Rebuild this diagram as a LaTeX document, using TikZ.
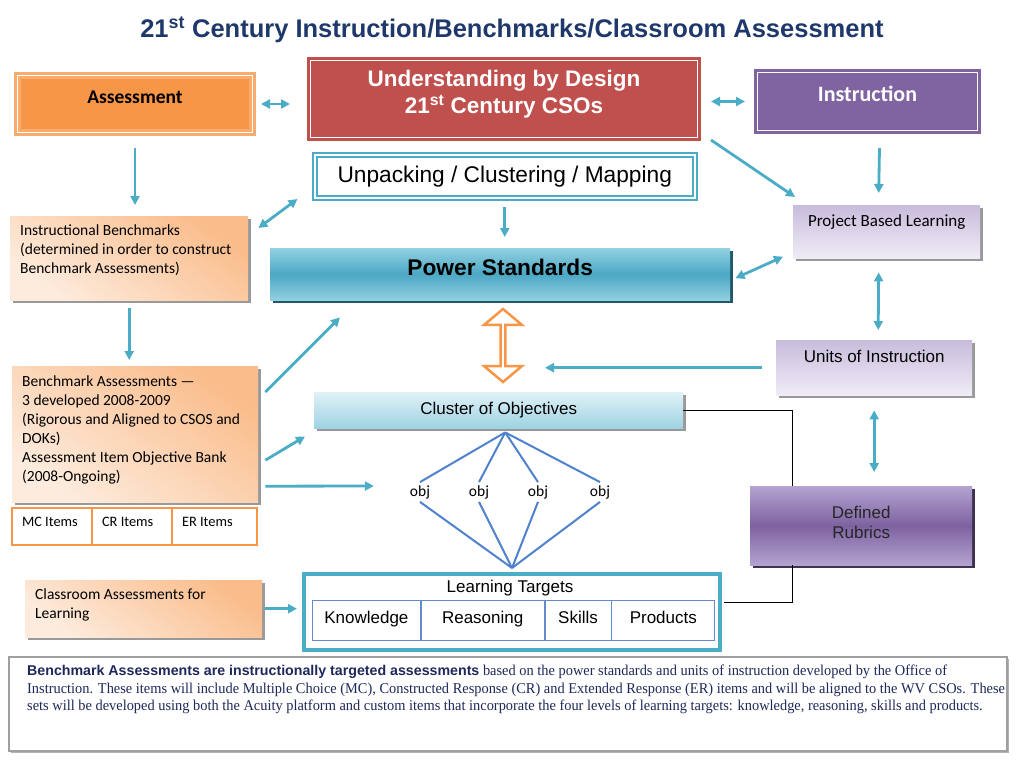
\documentclass[tikz,border=0pt]{standalone}
\usepackage{fontspec}
\setmainfont{Liberation Sans}
\newfontfamily\calibfont{Carlito}
\newfontfamily\timesfont[FakeStretch=0.96]{Liberation Serif}
\usetikzlibrary{calc, arrows.meta, shapes.arrows, shadows}
\definecolor{titleblue}{RGB}{31,56,108}
\definecolor{asorange}{RGB}{247,150,70}
\definecolor{asedge}{RGB}{249,172,110}
\definecolor{ubdred}{RGB}{192,80,77}
\definecolor{instpurple}{RGB}{128,100,162}
\definecolor{arrteal}{RGB}{75,172,198}
\definecolor{fanblue}{RGB}{79,129,205}
\definecolor{orlight}{RGB}{253,236,222}
\definecolor{ordark}{RGB}{250,188,138}
\definecolor{psmid}{RGB}{75,168,196}
\definecolor{pslight}{RGB}{146,208,225}
\definecolor{psshadow}{RGB}{33,89,104}
\definecolor{cluslight}{RGB}{224,241,247}
\definecolor{clusdark}{RGB}{158,211,227}
\definecolor{lavtop}{RGB}{200,188,220}
\definecolor{lavbot}{RGB}{240,236,246}
\definecolor{rubmid}{RGB}{125,98,160}
\definecolor{rublight}{RGB}{180,163,208}
\definecolor{rubshadow}{RGB}{63,49,81}
\definecolor{notenavy}{RGB}{30,40,90}
\definecolor{cellblue}{RGB}{100,140,205}

\tikzset{
  headbox/.style 2 args={draw=#2, fill=#1, double=white, double distance=1.5pt,
    line width=3pt, inner sep=0pt, anchor=north west},
  obox/.style={top color=ordark, bottom color=orlight, shading angle=-35,
    drop shadow={shadow xshift=3pt, shadow yshift=-3pt, fill=black!40, opacity=1},
    inner xsep=10pt, inner ysep=0pt, anchor=north west,
    font=\calibfont\fontsize{15.5}{19}\selectfont},
  lavbox/.style={top color=lavtop, bottom color=lavbot,
    drop shadow={shadow xshift=3pt, shadow yshift=-3pt, fill=black!40, opacity=1},
    inner sep=0pt, anchor=north west},
  itembox/.style={draw=asorange, line width=2.5pt, fill=white, anchor=north west, outer sep=0pt,
    inner xsep=10pt, inner ysep=0pt, font=\calibfont\fontsize{14.4}{17}\selectfont},
  ltcell/.style={draw=cellblue, line width=0.8pt, minimum height=40pt, anchor=north west,
    inner sep=0pt, font=\fontsize{17}{20}\selectfont, text height=12pt, text depth=6pt},
  objlab/.style={font=\calibfont\fontsize{15.5}{18}\selectfont, inner xsep=0pt, inner ysep=3pt},
  arr/.style={-{Triangle[length=9pt,width=9pt]}, arrteal, line width=2.8pt},
  darr/.style={{Triangle[length=9pt,width=9pt]}-{Triangle[length=9pt,width=9pt]}, arrteal, line width=2.8pt},
  fan/.style={fanblue, line width=2pt}
}

\begin{document}
\begin{tikzpicture}[x=1pt, y=-1pt]
\useasboundingbox (0,0) rectangle (1024,768);
\node[font=\bfseries\fontsize{25.5}{30}\selectfont, text=titleblue] (title) at (512,30)
  {21\textsuperscript{st} Century Instruction/Benchmarks/Classroom Assessment};

% top row
\node[headbox={asorange}{asedge}, minimum width=235pt, minimum height=57pt,
  font=\calibfont\bfseries\fontsize{19.5}{23}\selectfont, text height=14pt, text depth=16pt] (as) at (16,74) {Assessment};
\node[headbox={ubdred}{ubdred}, minimum width=387pt, minimum height=77pt, text=white,
  font=\bfseries\fontsize{22.5}{27}\selectfont] (ubd) at (309,59)
  {\parbox[c][77pt][t]{387pt}{\centering\vspace*{9.5pt}Understanding by Design\\21\textsuperscript{st} Century CSOs}};
\node[headbox={instpurple}{instpurple}, minimum width=220pt, minimum height=58pt, text=white,
  font=\calibfont\bfseries\fontsize{22}{26}\selectfont, text height=15pt, text depth=15pt] (instr) at (756,71) {Instruction};
\node[draw=arrteal, double=white, double distance=1.5pt, line width=2.5pt, fill=white,
  minimum width=380pt, minimum height=43pt, anchor=north west,
  font=\fontsize{22.7}{26}\selectfont] (unp) at (313.5,153.5) {Unpacking / Clustering / Mapping};

% left column
\node[obox] (ib) at (10,216) {\parbox[c][84pt][t]{218pt}{\vspace*{8.5pt}Instructional Benchmarks\\(determined in order to construct\\Benchmark Assessments)}};
\node[obox] (bau) at (12,366) {\parbox[c][136pt][t]{226pt}{\vspace*{9.5pt}Benchmark Assessments —\\3 developed 2008-2009\\(Rigorous and Aligned to CSOS and\\DOKs)\\Assessment Item Objective Bank\\(2008-Ongoing)}};
\node[itembox] (mc) at (12,508) {\parbox[c][37pt][t]{60pt}{\vspace*{9.5pt}MC Items}};
\node[itembox] (cr) at (mc.north east) {\parbox[c][37pt][t]{60pt}{\vspace*{9.5pt}CR Items}};
\node[itembox] (er) at (cr.north east) {\parbox[c][37pt][t]{65pt}{\vspace*{9.5pt}ER Items}};
\node[obox] (ca) at (25,580) {\parbox[c][57pt][t]{217pt}{\vspace*{9pt}Classroom Assessments for\\Learning}};

% middle
\node[top color=pslight, bottom color=pslight, middle color=psmid,
  drop shadow={shadow xshift=3pt, shadow yshift=-3pt, fill=psshadow, opacity=1},
  minimum width=460pt, minimum height=52pt, anchor=north west, inner sep=0pt,
  font=\bfseries\fontsize{22.7}{26}\selectfont, text height=17pt, text depth=15pt] (ps) at (270,248) {Power Standards};
\node[double arrow, draw=asorange, fill=white, line width=2.5pt, rotate=90,
  minimum height=73pt, minimum width=38pt, double arrow head extend=9pt,
  double arrow tip angle=100, inner sep=0pt] (dbl) at (503,345.5) {};
\node[top color=cluslight, bottom color=clusdark,
  drop shadow={shadow xshift=3pt, shadow yshift=-3pt, fill=black!40, opacity=1},
  minimum width=369pt, minimum height=36pt, anchor=north west, inner sep=0pt,
  font=\fontsize{17}{20}\selectfont] (clus) at (314,392) {Cluster of Objectives};
\foreach \x [count=\i] in {420,479,538,600}
  \node[objlab] (o\i) at (\x,492) {obj};
\node[draw=arrteal, line width=4pt, fill=white, minimum width=416pt, minimum height=76pt,
  anchor=north west] (lt) at (302,572) {};
\node[font=\fontsize{17}{20}\selectfont] (ltt) at (510,588) {Learning Targets};
\node[ltcell, minimum width=108pt] (know) at (312,600) {Knowledge};
\node[ltcell, minimum width=123pt] (reas) at (know.north east) {Reasoning};
\node[ltcell, minimum width=66pt] (skil) at (reas.north east) {Skills};
\node[ltcell, minimum width=103pt] (prod) at (skil.north east) {Products};

% right column
\node[lavbox, minimum width=187pt, minimum height=53pt,
  font=\calibfont\fontsize{17}{20}\selectfont, text height=12pt, text depth=23pt] (pbl) at (793,205) {Project Based Learning};
\node[lavbox, minimum width=196pt, minimum height=55pt,
  font=\fontsize{17}{20}\selectfont, text height=12pt, text depth=23pt] (uoi) at (776,340) {Units of Instruction};
\node[top color=rublight, bottom color=rublight, middle color=rubmid,
  drop shadow={shadow xshift=3pt, shadow yshift=-3pt, fill=rubshadow, opacity=1},
  minimum width=222pt, minimum height=79pt, anchor=north west, inner sep=0pt,
  text=black!85, font=\fontsize{17}{20}\selectfont] (rub) at (750,486)
  {\parbox[c][79pt][t]{222pt}{\centering\vspace*{19.5pt}Defined\\Rubrics}};

% note
\node[draw=gray!75, line width=1.5pt, fill=white, minimum width=998pt, minimum height=94pt,
  anchor=north west, drop shadow={shadow xshift=2pt, shadow yshift=-2pt, fill=black!30, opacity=1}] (note) at (8,656) {};
\node[anchor=north west, inner sep=0pt, text=notenavy, align=left,
  font=\timesfont\fontsize{15}{17.5}\selectfont] (notetext) at ($(note.north west)+(19,9)$)
  {{\normalfont\bfseries\fontsize{14.2}{17.5}\selectfont Benchmark Assessments are instructionally targeted assessments} based on the power standards and units of instruction developed by the Office of\\
   Instruction. These items will include Multiple Choice (MC), Constructed Response (CR) and Extended Response (ER) items and will be aligned to the WV CSOs. These\\
   sets will be developed using both the Acuity platform and custom items that incorporate the four levels of learning targets: knowledge, reasoning, skills and products.};

% connectors
\draw[darr, shorten <=7pt, shorten >=19pt] (as.east) -- (as.east -| ubd.west);
\draw[darr, shorten <=12pt, shorten >=11pt] (ubd.east |- instr.west) -- (instr.west);
\draw[arr, shorten <=14pt, shorten >=11pt] (as.south) -- (as.south |- ib.north);
\draw[darr] ($(ib.north east)+(10,12)$) -- ($(unp.south west)+(-16,0)$);
\draw[arr, shorten <=8pt, shorten >=11pt] (unp.south) -- (unp.south |- ps.north);
\draw[arr] ($(ubd.south east)+(12,1)$) -- ($(pbl.north west)+(2,-8)$);
\draw[arr] ($(instr.south)+(12,16)$) -- ($(pbl.north)+(-8,-12)$);
\draw[darr] ($(ps.east)+(5,4)$) -- ($(pbl.west)+(-10,25)$);
\draw[darr] ($(pbl.south)+(-8,14)$) -- ($(uoi.north)+(4,-10)$);
\draw[arr, shorten <=14pt, shorten >=42pt] (uoi.west) -- (uoi.west -| dbl.center);
\draw[darr] ($(uoi.south)+(0,15)$) -- ($(uoi.south |- rub.north)+(0,-14)$);
\draw[arr, shorten <=8pt, shorten >=6pt] (ib.south) -- (ib.south |- bau.north);
\draw[arr] ($(bau.north east)+(7,26)$) -- ($(ps.south west)+(70,17)$);
\draw[arr] ($(bau.east)+(7,26)$) -- ($(clus.south west)+(-9,8)$);
\draw[arr] ($(bau.east)+(7,52)$) -- ($(o1.west)+(-36,-6)$);
\draw[arr, shorten <=3pt, shorten >=5pt] (ca.east) -- (ca.east -| lt.west);

\coordinate (fantop) at ($(clus.south)+(6.5,4)$);
\coordinate (fanbot) at ($(lt.north)+(0,-4)$);
\foreach \i in {1,...,4} {
  \draw[fan] (fantop) -- (o\i.north);
  \draw[fan] (o\i.south) -- (fanbot);
}

\path (rub.north west) ++(42,0) coordinate (rubtop);
\path (rub.south west) ++(42,0) coordinate (rubbot);
\draw[black, line width=0.8pt] (clus.east) -| (rubtop);
\draw[black, line width=0.8pt] (rubbot) |- ($(lt.east)+(2,-10)$);
\end{tikzpicture}
\end{document}
